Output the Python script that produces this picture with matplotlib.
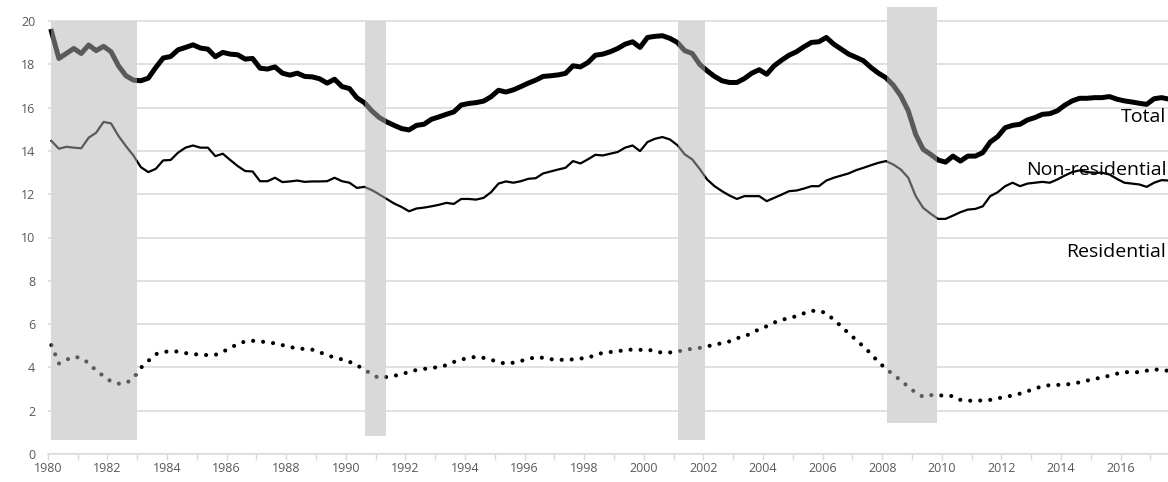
import numpy as np
import matplotlib
matplotlib.use('Agg')
import matplotlib.pyplot as plt

plt.rcParams['font.family'] = ['Open Sans', 'DejaVu Sans']

# quarterly values, 1980Q1 onwards (% of GDP)
total = [19.52, 18.27, 18.5, 18.73, 18.5, 18.89, 18.63, 18.83, 18.58, 17.93,
         17.47, 17.27, 17.24, 17.36, 17.85, 18.29, 18.36, 18.67, 18.78, 18.9,
         18.75, 18.7, 18.35, 18.55, 18.47, 18.44, 18.24, 18.27, 17.82, 17.78,
         17.88, 17.59, 17.5, 17.59, 17.44, 17.42, 17.33, 17.13, 17.31, 16.97,
         16.88, 16.45, 16.23, 15.85, 15.54, 15.34, 15.18, 15.03, 14.97, 15.18,
         15.23, 15.46, 15.57, 15.69, 15.8, 16.12, 16.19, 16.23, 16.3, 16.5,
         16.8, 16.72, 16.82, 16.97, 17.13, 17.27, 17.44, 17.47, 17.51, 17.58,
         17.93, 17.88, 18.08, 18.42, 18.47, 18.58, 18.73, 18.93, 19.04, 18.78,
         19.24, 19.29, 19.32, 19.2, 19.01, 18.63, 18.5, 18.0, 17.7, 17.44,
         17.24, 17.16, 17.16, 17.34, 17.59, 17.75, 17.54, 17.93, 18.19, 18.42,
         18.58, 18.81, 19.01, 19.04, 19.24, 18.93, 18.7, 18.47, 18.32, 18.16,
         17.85, 17.59, 17.38, 17.03, 16.54, 15.85, 14.76, 14.07, 13.84, 13.58,
         13.48, 13.76, 13.53, 13.76, 13.76, 13.92, 14.41, 14.66, 15.07, 15.18,
         15.23, 15.43, 15.54, 15.69, 15.72, 15.85, 16.11, 16.31, 16.43, 16.43,
         16.46, 16.46, 16.51, 16.39, 16.31, 16.26, 16.2, 16.15, 16.41, 16.46,
         16.39]

nonres = [14.46, 14.1, 14.19, 14.15, 14.12, 14.61, 14.84, 15.34, 15.27, 14.69,
          14.22, 13.79, 13.25, 13.02, 13.17, 13.56, 13.58, 13.92, 14.15, 14.25,
          14.15, 14.15, 13.76, 13.87, 13.58, 13.3, 13.07, 13.05, 12.6, 12.6,
          12.76, 12.56, 12.59, 12.63, 12.57, 12.59, 12.59, 12.6, 12.76, 12.6,
          12.53, 12.29, 12.34, 12.19, 11.99, 11.78, 11.57, 11.41, 11.21, 11.34,
          11.38, 11.44, 11.51, 11.6, 11.55, 11.78, 11.78, 11.75, 11.83, 12.09,
          12.49, 12.59, 12.53, 12.6, 12.71, 12.74, 12.96, 13.05, 13.14, 13.22,
          13.53, 13.42, 13.61, 13.82, 13.79, 13.87, 13.95, 14.15, 14.25, 13.99,
          14.41, 14.56, 14.64, 14.53, 14.27, 13.84, 13.61, 13.17, 12.68, 12.37,
          12.14, 11.94, 11.78, 11.91, 11.91, 11.91, 11.68, 11.83, 11.98, 12.14,
          12.17, 12.26, 12.37, 12.37, 12.63, 12.76, 12.86, 12.96, 13.11, 13.22,
          13.34, 13.45, 13.53, 13.37, 13.14, 12.76, 11.91, 11.37, 11.1, 10.86,
          10.86, 11.01, 11.17, 11.29, 11.32, 11.44, 11.91, 12.09, 12.37, 12.53,
          12.37, 12.49, 12.53, 12.57, 12.53, 12.68, 12.86, 13.02, 13.1, 13.02,
          12.99, 12.99, 12.91, 12.71, 12.53, 12.49, 12.45, 12.34, 12.53, 12.65,
          12.63]

resid = [5.03, 4.18, 4.35, 4.5, 4.43, 4.2, 3.85, 3.6, 3.35, 3.25,
         3.27, 3.5, 3.98, 4.3, 4.61, 4.71, 4.75, 4.73, 4.66, 4.62,
         4.58, 4.57, 4.58, 4.72, 4.9, 5.08, 5.2, 5.23, 5.2, 5.16,
         5.11, 5.03, 4.94, 4.88, 4.85, 4.82, 4.7, 4.57, 4.45, 4.37,
         4.26, 4.1, 3.9, 3.68, 3.5, 3.56, 3.61, 3.69, 3.79, 3.88,
         3.93, 3.97, 4.02, 4.1, 4.25, 4.36, 4.44, 4.49, 4.44, 4.35,
         4.26, 4.16, 4.22, 4.3, 4.38, 4.48, 4.44, 4.38, 4.35, 4.35,
         4.37, 4.41, 4.44, 4.58, 4.67, 4.71, 4.74, 4.81, 4.82, 4.81,
         4.83, 4.74, 4.68, 4.69, 4.73, 4.81, 4.86, 4.9, 4.97, 5.05,
         5.12, 5.2, 5.35, 5.42, 5.6, 5.76, 5.9, 6.07, 6.2, 6.27,
         6.37, 6.5, 6.61, 6.62, 6.5, 6.2, 5.9, 5.57, 5.27, 4.96,
         4.63, 4.24, 3.95, 3.65, 3.41, 3.1, 2.83, 2.64, 2.72, 2.72,
         2.68, 2.68, 2.5, 2.46, 2.47, 2.47, 2.5, 2.57, 2.64, 2.7,
         2.79, 2.9, 3.02, 3.13, 3.18, 3.19, 3.2, 3.25, 3.31, 3.39,
         3.47, 3.53, 3.62, 3.71, 3.78, 3.78, 3.78, 3.85, 3.92, 3.86,
         3.85]

# recession bands
rec_start = [1980.11, 1990.65, 2001.14, 2008.16]
rec_end = [1982.99, 1991.34, 2002.05, 2009.84]
rec_low = [0.65, 0.85, 0.65, 1.42]
rec_high = [20.0, 20.0, 20.0, 20.66]

years = list(range(1980, 2018))
year_labels = [str(y) if y % 2 == 0 else '' for y in years]

n = len(total)
x = 1980 + (np.arange(n) + 0.5) / 4

fig = plt.figure(figsize=(11.68, 4.82), dpi=100)
ax = fig.add_axes([47.7 / 1168, 28 / 482, 1 - 47.7 / 1168, 21 * 21.65 / 482])
ax.set_xlim(1980, 2017.59)
ax.set_ylim(0, 21)

ax.set_yticks(range(0, 21, 2))
ax.yaxis.grid(True, color='#d9d9d9', lw=1.1, zorder=0)
ax.set_axisbelow(True)
for s in ['top', 'right', 'left']:
    ax.spines[s].set_visible(False)
ax.spines['bottom'].set_color('#d9d9d9')
ax.spines['bottom'].set_linewidth(1.1)

ax.set_xticks(years)
ax.set_xticklabels(year_labels)
ax.tick_params(axis='x', length=4, width=1, color='#d9d9d9', labelcolor='#595959',
               labelsize=9, pad=2)
ax.tick_params(axis='y', length=0, labelcolor='#595959', labelsize=9, pad=9)

heights = np.subtract(rec_high, rec_low)
widths = np.subtract(rec_end, rec_start)
ax.bar(rec_start, heights, bottom=rec_low, width=widths, align='edge',
       color='#d9d9d9', lw=0, zorder=1.5)

ax.plot(x, total, color='black', lw=3.6, solid_joinstyle='round', zorder=2)
ax.plot(x, nonres, color='black', lw=1.6, solid_joinstyle='round', zorder=2)
ax.plot(x, resid, color='black', lw=3, linestyle=(0, (0.001, 2.4)),
        dash_capstyle='round', zorder=2)

# overlay greys the lines inside the bands
ax.bar(rec_start, heights, bottom=rec_low, width=widths, align='edge',
       color='#d9d9d9', alpha=0.42, lw=0, zorder=3)

ax.text(2017.53, 15.55, 'Total', fontsize=14, va='center', ha='right', zorder=4)
ax.text(2017.53, 13.14, 'Non-residential', fontsize=14, va='center', ha='right', zorder=4)
ax.text(2017.53, 9.33, 'Residential', fontsize=14, va='center', ha='right', zorder=4)

fig.savefig('out.png', dpi=100)
